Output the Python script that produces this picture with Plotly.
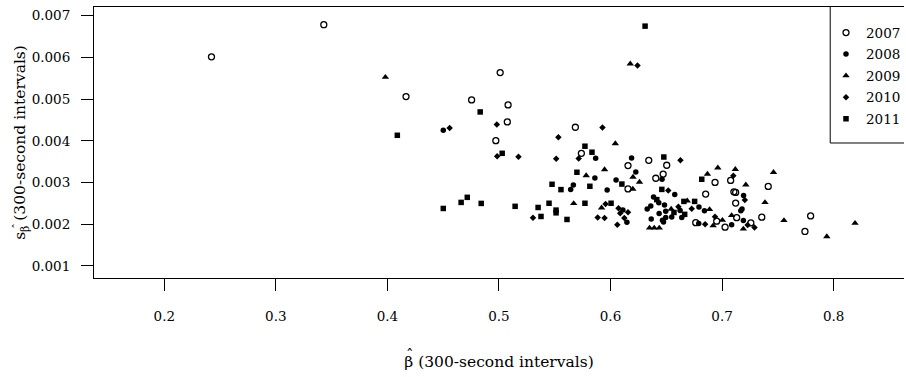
import plotly.graph_objects as go

# ---------------- data ----------------
x_2007 = [0.2423, 0.343, 0.4167, 0.5011, 0.4755, 0.5082, 0.5075, 0.4972, 0.5685, 0.5739,
          0.6157, 0.6157, 0.6343, 0.6504, 0.6472, 0.6406, 0.6937, 0.6853, 0.7077, 0.7414,
          0.7106, 0.7122, 0.7122, 0.6764, 0.6952, 0.7027, 0.7131, 0.7258, 0.7356, 0.7794,
          0.7743]
y_2007 = [0.006014, 0.006784, 0.00506, 0.005637, 0.004981, 0.004861, 0.004452, 0.004002, 0.004325, 0.0037,
          0.003406, 0.002846, 0.003531, 0.003413, 0.003202, 0.003101, 0.003002, 0.002721, 0.00305, 0.002906,
          0.002776, 0.002762, 0.002505, 0.002036, 0.002072, 0.001928, 0.002156, 0.002031, 0.002168, 0.002197,
          0.001825]

x_2008 = [0.4501, 0.5867, 0.6189, 0.6227, 0.5860, 0.605, 0.5667, 0.5643, 0.597, 0.6462,
          0.6576, 0.6386, 0.6433, 0.6484, 0.6361, 0.6329, 0.6624, 0.6495, 0.6495, 0.6436,
          0.6639, 0.6549, 0.6365, 0.6466, 0.6475, 0.6793, 0.6842, 0.6791, 0.7193, 0.7179,
          0.7168, 0.7191, 0.7086, 0.6111, 0.6147]
y_2008 = [0.004255, 0.003579, 0.003587, 0.00325, 0.003106, 0.003062, 0.002938, 0.002829, 0.002822, 0.003077,
          0.002714, 0.002649, 0.002512, 0.002457, 0.002433, 0.002361, 0.00233, 0.002313, 0.002161, 0.002257,
          0.002161, 0.002175, 0.002127, 0.002096, 0.002055, 0.002409, 0.00232, 0.002017, 0.00269, 0.002361,
          0.00232, 0.002089, 0.001988, 0.002337, 0.002048]

x_2009 = [0.3982, 0.6177, 0.6043, 0.5947, 0.5782, 0.6202, 0.626, 0.62, 0.567, 0.592,
          0.6962, 0.6869, 0.6688, 0.6544, 0.6888, 0.7003, 0.692, 0.635, 0.6392, 0.6437,
          0.7119, 0.7461, 0.7213, 0.7385, 0.7086, 0.7191, 0.7555, 0.7939, 0.8192]
y_2009 = [0.005526, 0.005846, 0.003935, 0.00331, 0.003166, 0.00313, 0.00301, 0.002841, 0.002498, 0.002392,
          0.003353, 0.003202, 0.00256, 0.002361, 0.002353, 0.002096, 0.001964, 0.001911, 0.001911, 0.001911,
          0.003317, 0.003243, 0.002945, 0.002522, 0.002209, 0.001887, 0.002089, 0.001704, 0.002024]

x_2010 = [0.4558, 0.4981, 0.4984, 0.5175, 0.6242, 0.5928, 0.5533, 0.5513, 0.5715, 0.5305,
          0.5956, 0.5885, 0.5947, 0.6072, 0.6157, 0.6087, 0.6124, 0.6061, 0.6627, 0.6518,
          0.6609, 0.6728, 0.6937, 0.6848, 0.7101, 0.7204, 0.7229, 0.7291]
y_2010 = [0.004308, 0.004392, 0.003627, 0.003618, 0.005805, 0.00432, 0.004084, 0.003567, 0.003575, 0.002156,
          0.002481, 0.002161, 0.002151, 0.00238, 0.002288, 0.00226, 0.002151, 0.001988, 0.003534, 0.002805,
          0.002416, 0.002368, 0.00218, 0.002, 0.003161, 0.002577, 0.001981, 0.001921]

x_2011 = [0.4089, 0.4832, 0.5029, 0.4716, 0.4661, 0.4841, 0.4501, 0.5145, 0.5771, 0.5834,
          0.5699, 0.6102, 0.5476, 0.5815, 0.5556, 0.5449, 0.5351, 0.5512, 0.5512, 0.5377,
          0.561, 0.5771, 0.6005, 0.6478, 0.6818, 0.646, 0.6415, 0.6658, 0.6754, 0.6569,
          0.6665, 0.631]
y_2011 = [0.004132, 0.004692, 0.0037, 0.002644, 0.002522, 0.002498, 0.002377, 0.002428, 0.00387, 0.003726,
          0.003245, 0.002962, 0.002957, 0.002909, 0.002829, 0.002502, 0.002401, 0.002337, 0.002272, 0.002185,
          0.002113, 0.002502, 0.002502, 0.003611, 0.003077, 0.002834, 0.002589, 0.002546, 0.002546, 0.002281,
          0.002236, 0.00675]

x_ticks = [0.2, 0.3, 0.4, 0.5, 0.6, 0.7, 0.8]
x_ticktext = ["0.2", "0.3", "0.4", "0.5", "0.6", "0.7", "0.8"]
y_ticks = [0.001, 0.002, 0.003, 0.004, 0.005, 0.006, 0.007]
y_ticktext = ["0.001", "0.002", "0.003", "0.004", "0.005", "0.006", "0.007"]

FONT = "DejaVu Serif"
FS = 13.5
TFS = 15.5

series = [
    ("2007", x_2007, y_2007, dict(symbol="circle-open", size=6, color="black", line=dict(width=1.3, color="black"))),
    ("2008", x_2008, y_2008, dict(symbol="circle", size=5.5, color="black", line=dict(width=0))),
    ("2009", x_2009, y_2009, dict(symbol="triangle-up", size=6.5, color="black", line=dict(width=0))),
    ("2010", x_2010, y_2010, dict(symbol="diamond", size=5, color="black", line=dict(width=0))),
    ("2011", x_2011, y_2011, dict(symbol="square", size=5.5, color="black", line=dict(width=0))),
]

fig = go.Figure()
for name, xs, ys, mk in series:
    fig.add_trace(go.Scatter(x=xs, y=ys, mode="markers", name=name, legendgroup=name,
                             marker=mk, cliponaxis=False))

# plot area in pixels (for placing the hat accents over the beta symbols)
L, T, W, H = 94, 7, 812, 271

def px(xp):
    return (xp - L) / W

def py(yp):
    return (T + H - yp) / H

fig.update_layout(
    width=906, height=377,
    margin=dict(l=L, r=0, t=T, b=377 - T - H, pad=0),
    paper_bgcolor="white", plot_bgcolor="white",
    font=dict(family=FONT, size=FS, color="black"),
    showlegend=True,
    legend=dict(x=0.9039, xanchor="left", y=0.962, yanchor="top",
                borderwidth=0, bgcolor="rgba(255,255,255,0)",
                font=dict(family=FONT, size=FS, color="black"),
                tracegroupgap=1, itemsizing="trace"),
    xaxis=dict(range=[0.137, 0.8631], tickvals=x_ticks, ticktext=x_ticktext,
               ticks="outside", ticklen=12, tickwidth=1, tickcolor="black",
               showline=True, linecolor="black", linewidth=1, mirror=True,
               showgrid=False, zeroline=False, ticklabelstandoff=14,
               title=dict(text="β (300-second intervals)", standoff=32,
                          font=dict(family=FONT, size=TFS))),
    yaxis=dict(range=[0.000709, 0.007209], tickvals=y_ticks, ticktext=y_ticktext,
               ticks="outside", ticklen=12, tickwidth=1, tickcolor="black",
               showline=True, linecolor="black", linewidth=1,
               showgrid=False, zeroline=False, ticklabelstandoff=8,
               title=dict(text="s<sub>β</sub> (300-second intervals)", standoff=1,
                          font=dict(family=FONT, size=TFS))),
    shapes=[
        dict(type="line", xref="paper", yref="paper", x0=0.9089, x1=0.9089, y0=0.4982, y1=1,
             line=dict(color="black", width=1)),
        dict(type="line", xref="paper", yref="paper", x0=0.9089, x1=1.0, y0=0.4982, y1=0.4982,
             line=dict(color="black", width=1)),
    ],
    annotations=[
        dict(text="\u02c6", xref="paper", yref="paper", x=px(410.5), y=py(354.5),
             xanchor="center", yanchor="middle", showarrow=False,
             font=dict(family=FONT, size=15, color="black")),
        dict(text="\u02c6", xref="paper", yref="paper", x=px(17.5), y=py(226),
             xanchor="center", yanchor="middle", showarrow=False, textangle=-90,
             font=dict(family=FONT, size=11, color="black")),
    ],
)

fig.write_html("out.html")
